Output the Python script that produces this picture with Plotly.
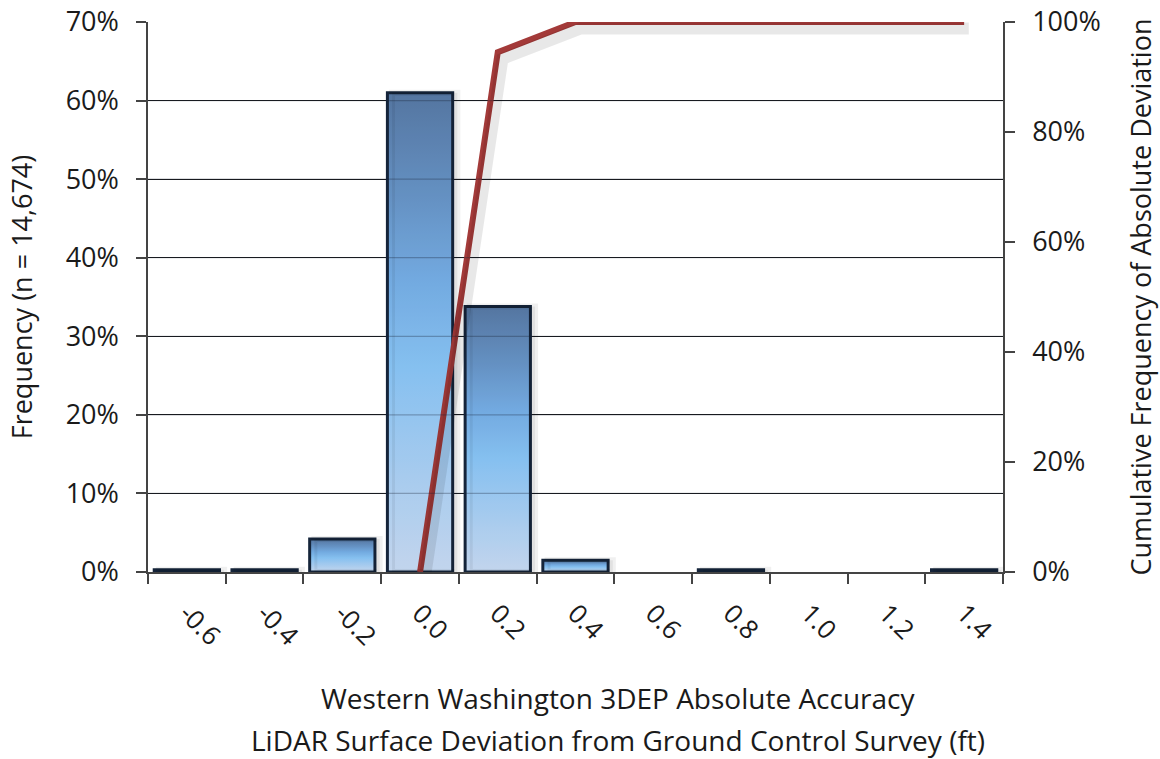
import plotly.graph_objects as go

# Histogram bins (ft) and frequency share of each bin
bin_labels = ["-0.6", "-0.4", "-0.2", "0.0", "0.2", "0.4", "0.6", "0.8", "1.0", "1.2", "1.4"]
frequency = [0.003, 0.003, 0.042, 0.61, 0.338, 0.015, 0.0, 0.003, 0.0, 0.0, 0.003]

# Cumulative frequency of absolute deviation, from the 0.0 bin onward
cum_labels = ["0.0", "0.2", "0.4", "0.6", "0.8", "1.0", "1.2", "1.4"]
cumulative = [0.0, 0.945, 1.0, 1.0, 1.0, 1.0, 1.0, 1.0]

x_title_lines = ["Western Washington 3DEP Absolute Accuracy",
                 "LiDAR Surface Deviation from Ground Control Survey (ft)"]

FONT = "Open Sans"
FS = 27
BAR_WIDTH = 0.84
bar_scale = [[0.0, "#cfe3fc"], [0.2, "#b2d8fd"], [0.42, "#8fcdff"],
             [0.6, "#7bb6f0"], [0.8, "#6a98cc"], [1.0, "#5a7dab"]]

pos = {lab: i for i, lab in enumerate(bin_labels)}
fig = go.Figure()

# Bars as gradient-filled rectangles on the numeric category axis
for lab, v in zip(bin_labels, frequency):
    if v <= 0:
        continue
    c = pos[lab]
    x0, x1 = c - BAR_WIDTH / 2, c + BAR_WIDTH / 2
    # soft shadow, offset to the right
    fig.add_trace(go.Scatter(
        x=[x0, x1, x1, x0, x0], y=[0, 0, v, v, 0], xaxis="x2", yaxis="y",
        mode="lines", fill="toself", fillcolor="rgba(0,0,0,0.06)",
        line=dict(color="rgba(0,0,0,0.06)", width=6), hoverinfo="skip", showlegend=False))
    fig.add_trace(go.Scatter(
        x=[x0, x1, x1, x0, x0], y=[0, 0, v, v, 0],
        mode="lines", fill="toself",
        fillgradient=dict(type="vertical", colorscale=bar_scale),
        line=dict(color="#15243a", width=3),
        hoverinfo="skip", showlegend=False))

cx = [pos[l] for l in cum_labels]
# shadow of the cumulative line
fig.add_trace(go.Scatter(
    x=cx, y=cumulative, xaxis="x2", yaxis="y3", mode="lines",
    line=dict(color="rgba(0,0,0,0.09)", width=12), hoverinfo="skip", showlegend=False))
fig.add_trace(go.Scatter(
    x=cx, y=cumulative, yaxis="y2", mode="lines",
    line=dict(color="#a33a39", width=6), hoverinfo="skip", showlegend=False))

# Horizontal gridlines drawn over the bars, faintly, as seen through them
for g in [0.1, 0.2, 0.3, 0.4, 0.5, 0.6]:
    fig.add_hline(y=g, line=dict(color="rgba(20,30,50,0.3)", width=1.2), layer="above")

n = len(bin_labels)
xr = [-0.5, n - 0.5]
axis_line = dict(showline=True, linecolor="#444", linewidth=1.5, zeroline=False, automargin=False)
fig.update_layout(
    width=1160, height=759,
    margin=dict(l=148, r=157, t=22, b=187),
    paper_bgcolor="white", plot_bgcolor="white",
    font=dict(family=FONT, size=FS, color="#1a1a1a"),
    xaxis=dict(
        range=xr, tickmode="array", tickvals=list(range(n)), ticktext=bin_labels,
        tickangle=45, ticks="", showgrid=False,
        tickfont=dict(size=FS - 1), ticklabelstandoff=14,
        minor=dict(tickmode="array", tickvals=[i - 0.5 for i in range(n + 1)],
                   ticks="outside", ticklen=10, tickcolor="#444", tickwidth=1.5,
                   showgrid=False),
        **axis_line,
    ),
    xaxis2=dict(range=[xr[0] - 0.06, xr[1] - 0.06], overlaying="x", visible=False),
    yaxis=dict(
        range=[0, 0.7], dtick=0.1, tickformat=".0%",
        showgrid=True, gridcolor="#1a1a1a", gridwidth=1.2,
        ticks="outside", ticklen=10, tickcolor="#444", tickwidth=1.5,
        ticklabelstandoff=12,
        title=dict(text="Frequency (n = 14,674)", font=dict(size=FS), standoff=25),
        **axis_line,
    ),
    yaxis2=dict(
        range=[0, 1], dtick=0.2, tickformat=".0%", overlaying="y", side="right",
        showgrid=False, ticks="outside", ticklen=10, tickcolor="#444", tickwidth=1.5,
        ticklabelstandoff=12,
        title=dict(text="Cumulative Frequency of Absolute Deviation", font=dict(size=FS), standoff=32),
        **axis_line,
    ),
    yaxis3=dict(range=[0.012, 1.012], overlaying="y", visible=False),
    annotations=[
        dict(text=x_title_lines[0], xref="paper", yref="paper", x=0.55, y=-0.229,
             xanchor="center", yanchor="middle", showarrow=False, font=dict(size=FS + 1)),
        dict(text=x_title_lines[1], xref="paper", yref="paper", x=0.55, y=-0.3055,
             xanchor="center", yanchor="middle", showarrow=False, font=dict(size=FS + 1)),
    ],
)

fig.write_html("out.html")
